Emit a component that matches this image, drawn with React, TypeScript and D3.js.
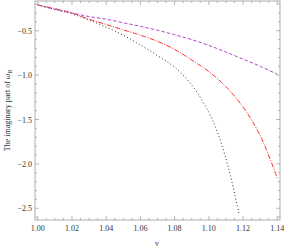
import * as d3 from "d3";

// v values shared by the three curves
const vGrid = [1.0, 1.01, 1.02, 1.03, 1.04, 1.05, 1.06, 1.07, 1.08, 1.09, 1.1, 1.11, 1.12, 1.13, 1.14];

// purple dashed
const purpleVals = [-0.21, -0.26, -0.3, -0.34, -0.37, -0.41, -0.45, -0.495, -0.545, -0.6, -0.665, -0.74, -0.82, -0.9, -0.99];
// red dash-dot
const redVals = [-0.21, -0.25, -0.3, -0.37, -0.43, -0.49, -0.55, -0.62, -0.71, -0.83, -0.96, -1.13, -1.36, -1.68, -2.16];
// black dotted (stops near the bottom of the frame)
const blackV = [1.0, 1.01, 1.02, 1.03, 1.04, 1.05, 1.06, 1.07, 1.08, 1.09, 1.1, 1.105, 1.11, 1.1125, 1.115, 1.1177];
const blackVals = [-0.21, -0.26, -0.31, -0.38, -0.46, -0.55, -0.66, -0.78, -0.91, -1.11, -1.42, -1.64, -1.94, -2.12, -2.33, -2.57];

const xTicks = [1.0, 1.02, 1.04, 1.06, 1.08, 1.1, 1.12, 1.14];
const yTicks = [-0.5, -1.0, -1.5, -2.0, -2.5];

const W = 284;
const H = 250;
const left = 35, right = 280, top = 1, bottom = 220;

export default function App() {
  const x = d3.scaleLinear().domain([0.9984, 1.1416]).range([left, right]);
  const y = d3.scaleLinear().domain([-0.165, -2.632]).range([top, bottom]);

  const line = d3
    .line<[number, number]>()
    .x((d) => x(d[0]))
    .y((d) => y(d[1]))
    .curve(d3.curveCatmullRom);

  const purple = vGrid.map((v, i) => [v, purpleVals[i]] as [number, number]);
  const red = vGrid.map((v, i) => [v, redVals[i]] as [number, number]);
  const black = blackV.map((v, i) => [v, blackVals[i]] as [number, number]);

  const xMinor = d3.range(0, 29).map((i) => 1.0 + i * 0.005);
  const yMinor = d3.range(2, 27).map((i) => -i * 0.1);
  const axisCol = "#9a9a9a";
  const font = "'Liberation Serif', 'DejaVu Serif', serif";

  return (
    <svg width={W} height={H} style={{ position: "absolute", left: 0, top: 0, background: "#fff" }}>
      <defs>
        <clipPath id="frame">
          <rect x={left} y={top} width={right - left} height={bottom - top} />
        </clipPath>
      </defs>
      <rect x={left} y={top} width={right - left} height={bottom - top} fill="none" stroke={axisCol} strokeWidth={0.8} />

      {/* x ticks bottom and top */}
      {xMinor.map((v, i) => {
        const major = i % 4 === 0;
        const len = major ? 4 : 2;
        return (
          <g key={`xt-${i}`} stroke={axisCol} strokeWidth={0.7}>
            <line x1={x(v)} x2={x(v)} y1={bottom} y2={bottom - len} />
            <line x1={x(v)} x2={x(v)} y1={top} y2={top + len} />
          </g>
        );
      })}
      {xTicks.map((v) => (
        <text key={`xl-${v}`} x={x(v)} y={bottom + 11} textAnchor="middle" fontSize={8} fontFamily={font} fill="#333">
          {v.toFixed(2)}
        </text>
      ))}

      {/* y ticks left and right */}
      {yMinor.map((v, i) => {
        const major = Math.abs((v * 10) % 5) < 1e-6;
        const len = major ? 4 : 2;
        return (
          <g key={`yt-${i}`} stroke={axisCol} strokeWidth={0.7}>
            <line x1={left} x2={left + len} y1={y(v)} y2={y(v)} />
            <line x1={right} x2={right - len} y1={y(v)} y2={y(v)} />
          </g>
        );
      })}
      {yTicks.map((v) => (
        <text key={`yl-${v}`} x={left - 3} y={y(v) + 3} textAnchor="end" fontSize={8} fontFamily={font} fill="#333">
          {"\u2212" + Math.abs(v).toFixed(1)}
        </text>
      ))}

      <g clipPath="url(#frame)" fill="none">
        <path d={line(black) ?? ""} stroke="#333" strokeWidth={1} strokeDasharray="1,2.4" />
        <path d={line(red) ?? ""} stroke="#ff3030" strokeWidth={1} strokeDasharray="5,1.5,1,1.5" />
        <path d={line(purple) ?? ""} stroke="#b04cc0" strokeWidth={1} strokeDasharray="3.5,2" />
      </g>

      <text x={157} y={246} textAnchor="middle" fontSize={8} fontFamily={font} fill="#333">
        v
      </text>
      <text
        transform={`translate(10,${(top + bottom) / 2}) rotate(-90)`}
        textAnchor="middle"
        fontSize={8}
        fontFamily={font}
        fill="#333"
      >
        The imaginary part of <tspan fontStyle="italic">ω</tspan>
        <tspan fontSize={6} dy={2} fontStyle="italic">R</tspan>
      </text>
    </svg>
  );
}
